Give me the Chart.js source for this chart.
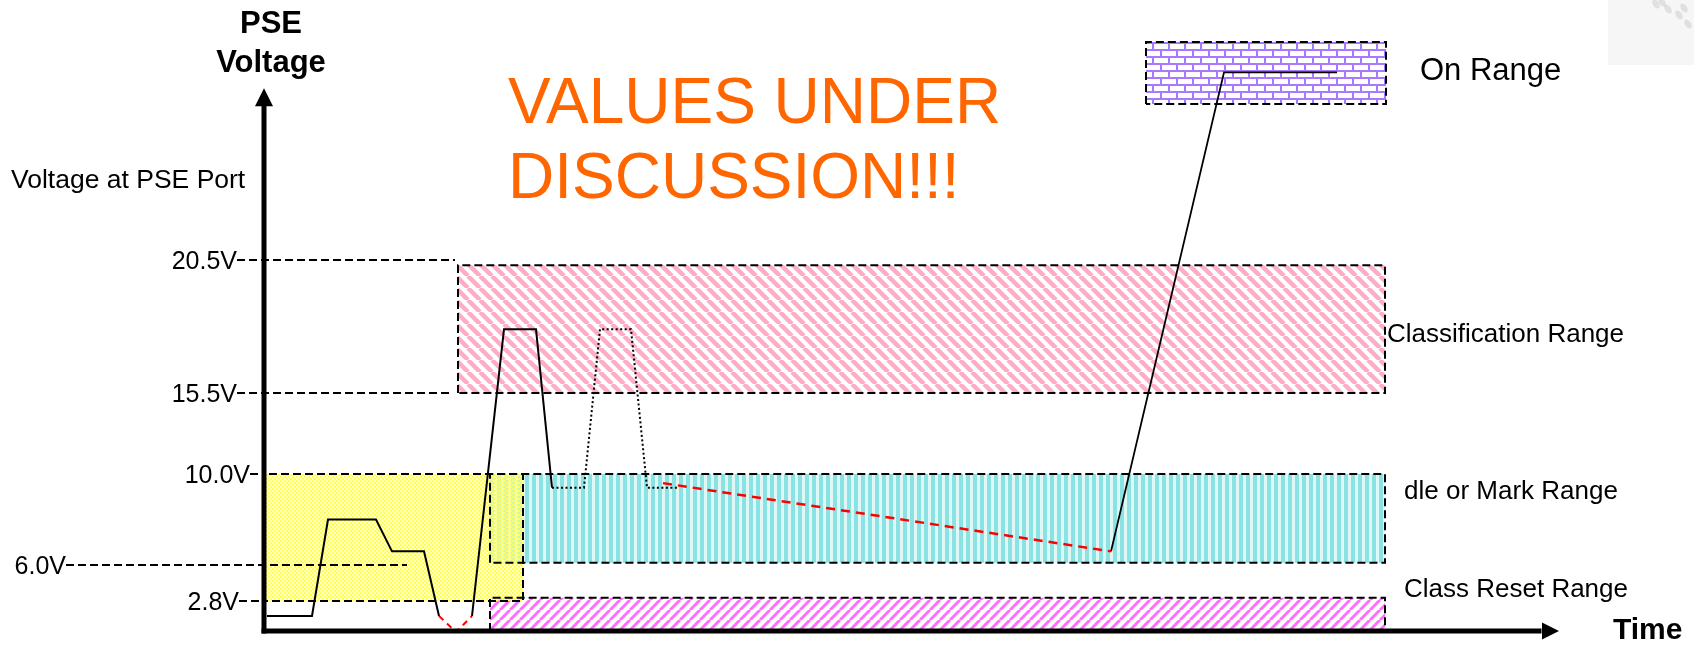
<!DOCTYPE html>
<html>
<head>
<meta charset="utf-8">
<title>PSE Voltage</title>
<script src="https://cdn.jsdelivr.net/npm/chart.js@4.4.0/dist/chart.umd.min.js"></script>
<style>
  html, body { margin: 0; padding: 0; background: #fff; }
</style>
</head>
<body>
<canvas id="myChart" width="1694" height="648"></canvas>
<script>
// voltage thresholds on the axis
const tickValues = [20.5, 15.5, 10.0, 6.0, 2.8];
const tickLabels = ["20.5V", "15.5V", "10.0V", "6.0V", "2.8V"];
// dashed leaders from each label (time units)
const leaderFrom = [-2.7, -2.7, -1.4, -19.8, -2.5];
const leaderTo = [19.1, 18.8, 0, 14.3, 0];

// ranges (boxes)
const rangeNames = ["", "dle or Mark Range", "Classification Range", "Class Reset Range", "On Range"];
const rangeLow = [2.8, 6.1, 15.5, 0, 26.4];
const rangeHigh = [10.0, 10.0, 20.3, 3.1, 28.75];
const rangeStart = [0, 22.6, 19.4, 22.6, 88.2];
const rangeEnd = [25.9, 112.1, 112.1, 112.1, 112.2];

// voltage trace pieces
const detectTime = [0.3, 4.8, 6.4, 11.2, 12.8, 16.0, 17.5];
const detectVolt = [1.4, 1.4, 8.0, 8.0, 6.6, 6.6, 1.4];
const resetTime = [17.5, 19.2, 20.8];
const resetVolt = [1.4, -0.1, 1.4];
const classTime = [20.8, 24.0, 27.2, 28.8];
const classVolt = [1.4, 17.9, 17.9, 9.4];
const class2Time = [28.8, 32.0, 33.6, 36.7, 38.3, 41.3];
const class2Volt = [9.4, 9.4, 17.9, 17.9, 9.4, 9.4];
const markTime = [39.9, 84.7];
const markVolt = [9.6, 6.6];
const powerTime = [84.7, 96.0, 107.3];
const powerVolt = [6.6, 27.6, 27.6];

const FONT = "'Liberation Sans', Arial, sans-serif";

// the drawing is not to scale: piecewise voltage axis
const knotV = [0, 2.8, 6.0, 10.0, 15.5, 20.5, 29.2];
const knotF = [0, 0.0499, 0.1098, 0.2612, 0.3960, 0.6173, 1];

function interp(v, from, to) {
  let i = 1;
  while (i < from.length - 1 && v > from[i]) i++;
  const t = (v - from[i - 1]) / (from[i] - from[i - 1]);
  return to[i - 1] + t * (to[i] - to[i - 1]);
}

const LinearScale = Chart.LinearScale || Chart.scales.LinearScale;
class SchematicScale extends LinearScale {
  getPixelForValue(value) {
    if (value === null || value === undefined || isNaN(value)) return NaN;
    return this.getPixelForDecimal(interp(value, knotV, knotF));
  }
  getValueForPixel(pixel) {
    return interp(this.getDecimalForPixel(pixel), knotF, knotV);
  }
}
SchematicScale.id = 'schematic';
SchematicScale.defaults = LinearScale.defaults;
Chart.register(SchematicScale);

let canvasChart = document.getElementById('myChart');
let ctx0 = canvasChart.getContext('2d');

function makePattern(w, h, paint) {
  let c = document.createElement('canvas');
  c.width = w;
  c.height = h;
  paint(c.getContext('2d'), w, h);
  return ctx0.createPattern(c, 'repeat');
}

const yellowFill = makePattern(4, 4, (g) => {
  g.fillStyle = '#ffff55';
  g.fillRect(0, 0, 2, 2);
  g.fillRect(2, 2, 2, 2);
  g.fillStyle = 'rgba(255,255,160,0.6)';
  g.fillRect(2, 0, 2, 2);
  g.fillRect(0, 2, 2, 2);
});
const cyanFill = makePattern(7, 4, (g) => {
  g.fillStyle = '#8ae2e2';
  g.fillRect(0, 0, 4, 4);
  g.fillStyle = 'rgba(190,240,240,0.5)';
  g.fillRect(4, 0, 3, 4);
});
const pinkFill = makePattern(12, 12, (g) => {
  g.strokeStyle = '#ffadc6';
  g.lineWidth = 4.5;
  [-12, 0, 12].forEach(o => {
    g.beginPath();
    g.moveTo(o, 0);
    g.lineTo(o + 12, 12);
    g.stroke();
  });
});
const magentaFill = makePattern(10, 10, (g) => {
  g.strokeStyle = '#ff6eff';
  g.lineWidth = 3;
  [-10, 0, 10].forEach(o => {
    g.beginPath();
    g.moveTo(o, 10);
    g.lineTo(o + 10, 0);
    g.stroke();
  });
});
const brickFill = makePattern(16, 14, (g) => {
  g.fillStyle = '#ffffff';
  g.fillRect(0, 0, 16, 14);
  g.strokeStyle = '#a878ff';
  g.lineWidth = 2;
  g.beginPath();
  g.moveTo(0, 1); g.lineTo(16, 1);
  g.moveTo(0, 8); g.lineTo(16, 8);
  g.moveTo(1, 1); g.lineTo(1, 8);
  g.moveTo(9, 8); g.lineTo(9, 14);
  g.stroke();
});
const rangeFills = [yellowFill, cyanFill, pinkFill, magentaFill, brickFill];

function pts(xs, ys) {
  return xs.map((x, i) => ({ x: x, y: ys[i] }));
}

let datasets = [];

// trace
function trace(xs, ys, color, width, dash) {
  datasets.push({
    data: pts(xs, ys),
    borderColor: color,
    borderWidth: width,
    borderDash: dash,
    pointRadius: 0,
    fill: false,
    clip: false,
    order: 1
  });
}
trace(detectTime, detectVolt, '#000', 2, []);
trace(resetTime, resetVolt, '#ff0000', 2, [6, 5]);
trace(classTime, classVolt, '#000', 2, []);
trace(class2Time, class2Volt, '#000', 2, [2, 2.5]);
trace(markTime, markVolt, '#ff0000', 2.5, [9, 6]);
trace(powerTime, powerVolt, '#000', 1.8, []);

// leaders
tickValues.forEach((v, i) => {
  datasets.push({
    data: [{ x: leaderFrom[i], y: v }, { x: leaderTo[i], y: v }],
    borderColor: '#000',
    borderWidth: 2,
    borderDash: [8, 4],
    pointRadius: 0,
    fill: false,
    clip: false,
    order: 15
  });
});

// boxes
rangeLow.forEach((lo, i) => {
  const hi = rangeHigh[i], x0 = rangeStart[i], x1 = rangeEnd[i];
  datasets.push({
    data: [{ x: x0, y: lo }, { x: x0, y: hi }, { x: x1, y: hi }, { x: x1, y: lo }, { x: x0, y: lo }],
    borderColor: '#000',
    borderWidth: 2,
    borderDash: [8, 4],
    pointRadius: 0,
    fill: false,
    clip: false,
    order: 20
  });
  datasets.push({
    data: [{ x: x0, y: hi }, { x: x1, y: hi }],
    borderColor: 'rgba(0,0,0,0)',
    borderWidth: 0,
    pointRadius: 0,
    backgroundColor: rangeFills[i],
    fill: { value: lo },
    clip: false,
    order: 30 + i
  });
});

const decorations = {
  id: 'decorations',
  afterDatasetsDraw(chart) {
    const ctx = chart.ctx;
    const xs = chart.scales.x, ys = chart.scales.y;
    const ax = xs.getPixelForValue(0), ay = ys.getPixelForValue(0);
    const yTip = ys.getPixelForValue(27.0);
    const xTip = xs.getPixelForValue(129.5);
    ctx.save();
    ctx.fillStyle = '#000';
    ctx.fillRect(ax - 2.5, yTip + 16, 5, ay - yTip - 16 + 2.5);
    ctx.fillRect(ax - 2.5, ay - 2.5, xTip - ax - 15, 5);
    ctx.beginPath();
    ctx.moveTo(ax, yTip);
    ctx.lineTo(ax + 9, yTip + 18);
    ctx.lineTo(ax - 9, yTip + 18);
    ctx.closePath();
    ctx.fill();
    ctx.beginPath();
    ctx.moveTo(xTip, ay);
    ctx.lineTo(xTip - 17, ay - 8.5);
    ctx.lineTo(xTip - 17, ay + 8.5);
    ctx.closePath();
    ctx.fill();

    // tick labels
    ctx.font = '25px ' + FONT;
    ctx.textAlign = 'right';
    ctx.textBaseline = 'alphabetic';
    tickValues.forEach((v, i) => {
      ctx.fillText(tickLabels[i], xs.getPixelForValue(leaderFrom[i]), ys.getPixelForValue(v) + 9);
    });

    // range names
    const nameAt = [null, [114.0, 8.9], [112.3, 17.4], [114.0, 3.2], [115.6, 27.3]];
    ctx.textAlign = 'left';
    rangeNames.forEach((name, i) => {
      if (!name) return;
      ctx.font = (i === 4 ? '31px ' : '26px ') + FONT;
      ctx.fillText(name, xs.getPixelForValue(nameAt[i][0]), ys.getPixelForValue(nameAt[i][1]));
    });

    // titles
    ctx.font = 'bold 31px ' + FONT;
    ctx.textAlign = 'center';
    ctx.fillText('PSE', 271, 33);
    ctx.fillText('Voltage', 271, 72);
    ctx.textAlign = 'left';
    ctx.font = 'bold 30px ' + FONT;
    ctx.fillText('Time', 1613, 639);
    ctx.font = '26.5px ' + FONT;
    ctx.fillText('Voltage at PSE Port', 11, 188);
    ctx.font = '64px ' + FONT;
    ctx.fillStyle = '#ff6600';
    ctx.fillText('VALUES UNDER', 508, 123);
    ctx.fillText('DISCUSSION!!!', 508, 198);

    // faint logo corner
    ctx.fillStyle = '#f6f6f6';
    ctx.fillRect(1608, 0, 86, 65);
    ctx.fillStyle = 'rgba(160,160,160,0.25)';
    [[1656, 4], [1668, 9], [1679, 15], [1688, 24], [1662, 2], [1684, 8]].forEach(p => {
      ctx.beginPath();
      ctx.ellipse(p[0], p[1], 3, 5, -0.6, 0, Math.PI * 2);
      ctx.fill();
    });
    ctx.restore();
  }
};

new Chart(canvasChart, {
  type: 'line',
  data: { datasets: datasets },
  options: {
    responsive: false,
    animation: false,
    events: [],
    layout: { padding: { left: 264, right: 152, top: 30, bottom: 17 } },
    scales: {
      x: { type: 'linear', min: 0, max: 127.8, display: false },
      y: { type: 'schematic', min: 0, max: 29.2, display: false }
    },
    plugins: {
      legend: { display: false },
      tooltip: { enabled: false }
    }
  },
  plugins: [decorations]
});
</script>
</body>
</html>
